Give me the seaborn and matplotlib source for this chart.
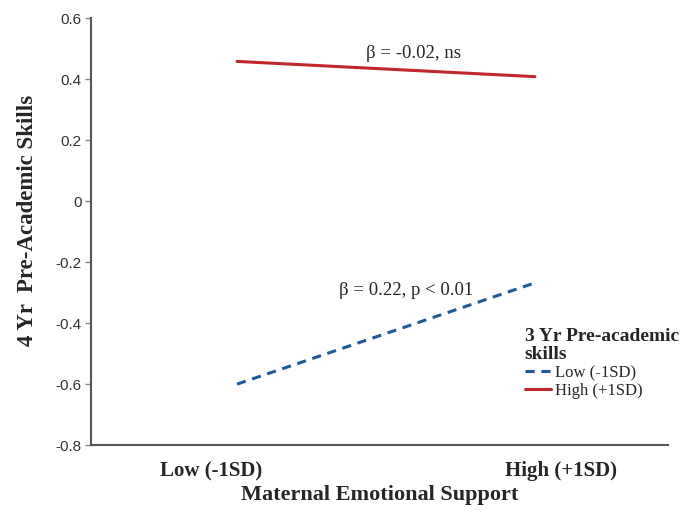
import numpy as np
import pandas as pd
import seaborn as sns
import matplotlib.pyplot as plt
from matplotlib.transforms import ScaledTranslation

# Data
support_levels = ['Low (-1SD)', 'High (+1SD)']
low_3yr = [-0.60, -0.268]
high_3yr = [0.458, 0.408]
groups = ['Low (-1SD)', 'High (+1SD)']

df = pd.DataFrame({
    'support': support_levels * 2,
    'skills4': low_3yr + high_3yr,
    'group': [groups[0]] * 2 + [groups[1]] * 2,
})

sns.set_style('white')
plt.rcParams['font.family'] = ['Liberation Serif', 'DejaVu Serif']

fig = plt.figure(figsize=(6.8, 5.17), dpi=100)
ax = fig.add_axes([0.134, 0.139, 0.848, 0.826])

sns.lineplot(data=df, x='support', y='skills4', hue='group', style='group',
             palette={groups[0]: '#1f5a96', groups[1]: '#c0282d'},
             dashes={groups[0]: (3.0, 2.2), groups[1]: ''},
             linewidth=2.2, ax=ax)

ax.set_xlim(-0.49, 1.446)
ax.set_ylim(-0.8, 0.6)
ax.set_yticks(np.arange(-0.8, 0.61, 0.2))
ax.set_yticklabels(['-0.8', '-0.6', '-0.4', '-0.2', '0', '0.2', '0.4', '0.6'],
                   family='Liberation Sans', fontsize=11, color='#333333')
ax.tick_params(axis='y', left=True, length=4, width=1, color='#888888', pad=3)
ax.tick_params(axis='x', bottom=False, pad=8)
# the category labels sit a little outside the line ends in the original
shifts = [-26, 26]
for lab, dx in zip(ax.get_xticklabels(), shifts):
    lab.set_fontweight('bold')
    lab.set_fontsize(15)
    lab.set_transform(lab.get_transform() + ScaledTranslation(dx / 100, 0, fig.dpi_scale_trans))

for side in ['top', 'right']:
    ax.spines[side].set_visible(False)
for side in ['left', 'bottom']:
    ax.spines[side].set_color('#555555')
    ax.spines[side].set_linewidth(1.5)

ax.set_xlabel('Maternal Emotional Support', fontsize=16, fontweight='bold', labelpad=3)
ax.set_ylabel('4 Yr  Pre-Academic Skills', fontsize=16.5, fontweight='bold')
ax.yaxis.set_label_coords(-0.092, 0.527)

ax.text(0.593, 0.485, 'β = -0.02, ns', ha='center', va='center', fontsize=13.5)
ax.text(0.566, -0.292, 'β = 0.22, p < 0.01', ha='center', va='center', fontsize=13.5)

leg = ax.legend(title='3 Yr Pre-academic\nskills', loc='upper left',
                bbox_to_anchor=(0.74, 0.29), frameon=False, fontsize=12,
                handlelength=1.6, handletextpad=0.2, borderaxespad=0,
                labelspacing=0.1, alignment='left')
leg.get_title().set_fontweight('bold')
leg.get_title().set_fontsize(14)
leg.get_title().set_linespacing(1.1)

fig.savefig('out.png', dpi=100)
